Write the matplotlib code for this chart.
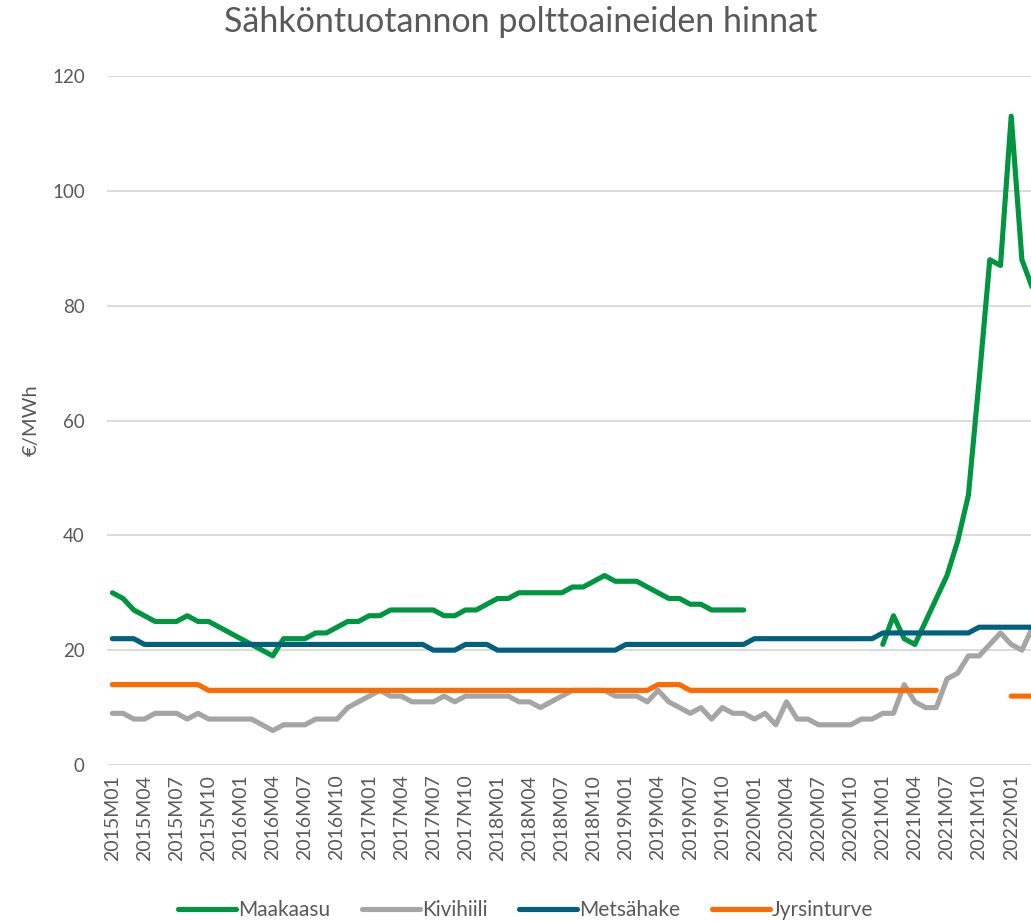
import matplotlib
matplotlib.use("Agg")
import matplotlib.pyplot as plt
import numpy as np

plt.rcParams.update({"font.family": ["Lato", "DejaVu Sans"], "text.color": "#595959",
                     "axes.labelcolor": "#595959", "xtick.color": "#595959",
                     "ytick.color": "#595959"})

# monthly categories 2015M01 ... 2022M03 (chart is cropped on the right)
months = [f"{y}M{m:02d}" for y in range(2015, 2023) for m in range(1, 13)][:87]
N = None

maakaasu = [30, 29, 27, 26, 25, 25, 25, 26, 25, 25,
            24, 23, 22, 21, 20, 19, 22, 22, 22, 23,
            23, 24, 25, 25, 26, 26, 27, 27, 27, 27,
            27, 26, 26, 27, 27, 28, 29, 29, 30, 30,
            30, 30, 30, 31, 31, 32, 33, 32, 32, 32,
            31, 30, 29, 29, 28, 28, 27, 27, 27, 27,
            N, N, N, N, N, N, N, N, N, N,
            N, N, 21, 26, 22, 21, 25, 29, 33, 39,
            47, 67, 88, 87, 113, 88, 83]
kivihiili = [9, 9, 8, 8, 9, 9, 9, 8, 9, 8,
             8, 8, 8, 8, 7, 6, 7, 7, 7, 8,
             8, 8, 10, 11, 12, 13, 12, 12, 11, 11,
             11, 12, 11, 12, 12, 12, 12, 12, 11, 11,
             10, 11, 12, 13, 13, 13, 13, 12, 12, 12,
             11, 13, 11, 10, 9, 10, 8, 10, 9, 9,
             8, 9, 7, 11, 8, 8, 7, 7, 7, 7,
             8, 8, 9, 9, 14, 11, 10, 10, 15, 16,
             19, 19, 21, 23, 21, 20, 24]
metsahake = [22] * 3 + [21] * 27 + [20] * 3 + [21] * 3 + [20] * 12 + [21] * 12 \
    + [22] * 12 + [23] * 9 + [24] * 6
jyrsinturve = [14] * 9 + [13] * 42 + [14] * 3 + [13] * 24 + [N] * 6 + [12] * 3

series = [("Maakaasu", maakaasu, "#00963F"),
          ("Kivihiili", kivihiili, "#A5A5A5"),
          ("Metsähake", metsahake, "#00617F"),
          ("Jyrsinturve", jyrsinturve, "#FF6A00")]

fig = plt.figure(figsize=(10.31, 9.21), dpi=100)
ax = fig.add_axes([107 / 1031, 156 / 921, 924 / 1031, 689 / 921])

x = np.arange(len(months))
for name, vals, c in series:
    y = np.array([np.nan if v is None else v for v in vals], dtype=float)
    ax.plot(x, y, color=c, lw=3.7, solid_capstyle="round", solid_joinstyle="round",
            label=name)

ax.set_xlim(-0.5, 85.85)
ax.set_ylim(0, 120)
ax.set_yticks(range(0, 121, 20))
ax.set_xticks(x[::3])
ax.set_xticklabels(months[::3], rotation=90, fontsize=14)
ax.tick_params(axis="y", length=0, pad=16, labelsize=13.5)
ax.tick_params(axis="x", length=0, pad=7)
ax.grid(axis="y", color="#D9D9D9", lw=1.3)
ax.set_axisbelow(True)
for s in ax.spines.values():
    s.set_visible(False)
ax.set_ylabel("€/MWh", fontsize=14.5, labelpad=9)

fig.text(0.505, 0.976, "Sähköntuotannon polttoaineiden hinnat", ha="center",
         va="center", fontsize=24.5)
fig.legend(loc="center", bbox_to_anchor=(0.51, 0.0115), ncol=4, frameon=False,
           fontsize=15, handlelength=2.8, handletextpad=0.1, columnspacing=1.5)

fig.savefig("out.png", dpi=100)
